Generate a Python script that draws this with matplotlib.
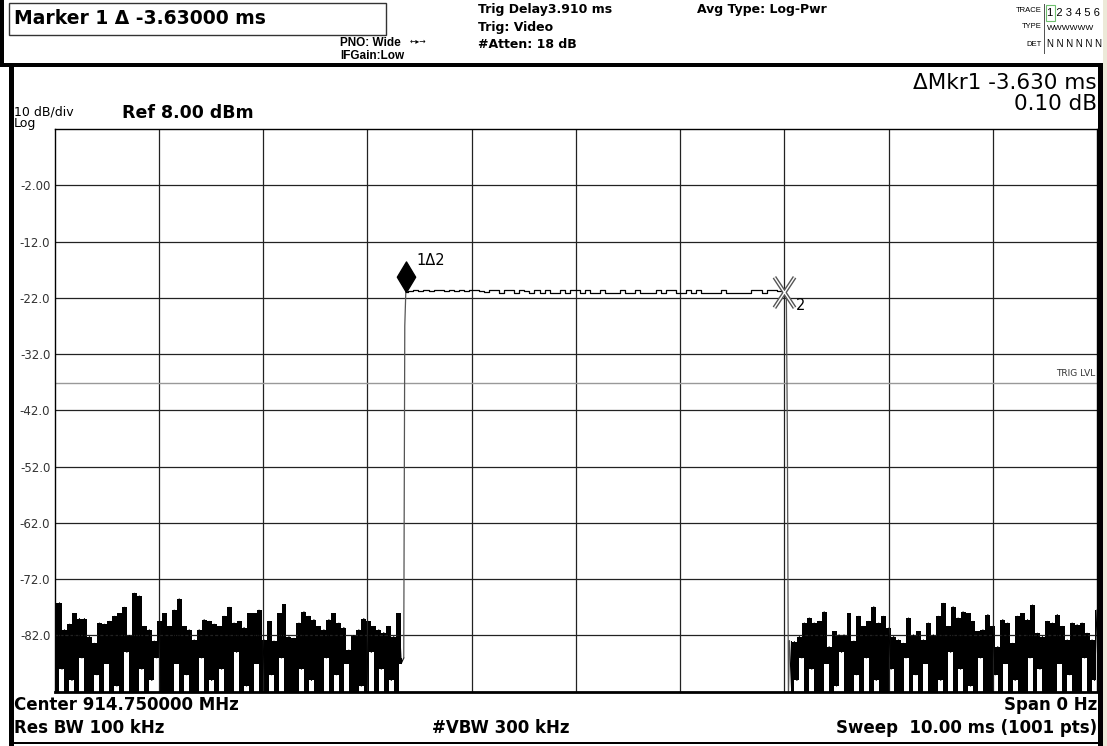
import numpy as np
import matplotlib
matplotlib.use("Agg")
import matplotlib.pyplot as plt
from matplotlib.patches import Rectangle
from matplotlib.path import Path

plt.rcParams['font.family'] = ['DejaVu Sans']
plt.rcParams['path.simplify'] = False

W, H = 1107, 746

# ---- trace data (dBm), zero span, 10 ms sweep ----
left_peaks = [-76.3, -76.2, -81.0, -80.0, -78.1, -79.0, -79.0, -82.2, -83.4, -79.8,
              -80.0, -79.5, -78.6, -78.1, -77.0, -82.0, -74.5, -75.0, -80.4, -81.0,
              -83.0, -79.5, -78.1, -80.4, -77.5, -75.5, -80.4, -81.0, -82.8, -81.0,
              -79.2, -79.5, -80.0, -80.4, -78.6, -77.0, -79.8, -79.5, -80.6, -78.1,
              -78.1, -77.5, -82.8, -79.5, -83.0, -78.1, -76.5, -82.2, -82.5, -79.8,
              -77.8, -78.6, -79.2, -80.4, -81.0, -79.2, -78.1, -79.8, -80.6, -84.6,
              -82.0, -81.0, -79.0, -79.5, -80.4, -81.0, -81.5, -80.4, -82.2, -78.1, -86.0]
left_troughs = [-93, -88, -93, -90, -93, -86, -93, -93, -89, -93, -87, -93, -91, -93, -85,
                -93, -93, -88, -93, -90, -86, -93, -93, -92, -87, -93, -89, -93, -93, -86,
                -93, -90, -93, -88, -93, -93, -85, -93, -91, -93, -87, -93, -93, -89, -93,
                -86, -93, -92, -93, -88, -93, -90, -93, -93, -86, -93, -89, -93, -87, -93,
                -93, -91, -93, -85, -93, -88, -93, -90, -93, -87]
rise = [-27.0]
plateau = [-20.9, -20.8, -20.7, -20.8, -20.7, -20.8, -20.7, -20.7, -20.8, -20.7,
           -20.8, -20.7, -20.8,
           -20.7, -20.6, -20.8, -21.0, -20.6, -20.7, -21.1, -20.7, -20.7, -21.2,
           -20.6, -20.8, -21.2, -20.7, -21.2, -20.6, -21.2, -21.2,
           -20.6, -21.2, -20.7, -20.6, -21.2, -20.6, -21.2, -21.2, -20.7, -21.2,
           -21.2, -21.2, -20.6, -21.2, -21.2, -20.6, -21.2, -21.2, -21.2, -20.6,
           -21.2, -20.6, -20.7, -21.2, -21.2, -20.6, -21.2, -20.7, -21.2, -21.2,
           -21.2, -21.2, -20.6, -21.2, -21.2, -21.2, -21.2, -21.2, -20.7, -20.6,
           -21.2, -20.6, -20.7, -20.8, -21.0]
fall = [-21.2, -47.0, -93.0]
right_peaks = [-83.0, -83.1, -82.2, -79.8, -78.9, -79.8, -79.5, -77.8, -84.0, -81.3,
               -81.9, -81.9, -78.1, -83.0, -78.6, -80.4, -79.5, -76.9, -79.8, -78.6,
               -80.7, -82.2, -82.8, -83.4, -78.9, -81.9, -81.3, -82.8, -79.8, -81.9,
               -78.6, -76.3, -80.4, -76.9, -78.9, -77.8, -78.1, -79.5, -81.3, -81.0,
               -78.3, -80.4, -84.0, -79.2, -79.8, -83.4, -78.6, -78.1, -79.2, -76.6,
               -81.6, -82.2, -79.5, -79.8, -78.3, -80.4, -82.8, -79.8, -80.1, -79.8,
               -81.6, -82.8, -77.5]
right_troughs = [-93, -90, -86, -93, -88, -93, -93, -87, -93, -91, -85, -93, -93, -89, -93,
                 -86, -93, -90, -93, -93, -88, -92, -93, -86, -93, -89, -93, -87, -93, -93,
                 -90, -93, -85, -93, -88, -93, -91, -93, -86, -93, -93, -89, -93, -87, -93,
                 -90, -93, -93, -86, -93, -88, -93, -92, -93, -87, -93, -89, -93, -93, -86,
                 -93, -90]

yticks = [-2, -12, -22, -32, -42, -52, -62, -72, -82]
ytick_labels = ["-2.00", "-12.0", "-22.0", "-32.0", "-42.0", "-52.0", "-62.0", "-72.0", "-82.0"]
trig_level = -37.1
mkr1_t, mkr2_t = 3.37, 7.00


def interleave(peaks, troughs):
    out = []
    for i, p in enumerate(peaks):
        out.append(p)
        if i < len(troughs):
            out.append(troughs[i])
    return out


seg_l = np.array(interleave(left_peaks, left_troughs))
seg_r = np.array(interleave(right_peaks, right_troughs))
t_l = np.linspace(0, 3.35, len(seg_l))
t_p = np.linspace(mkr1_t, mkr2_t, len(plateau))
t_r = np.linspace(7.05, 10.0, len(seg_r))

fig = plt.figure(figsize=(W / 100, H / 100), dpi=100)
fig.patch.set_facecolor('white')


def box(x0, y0, x1, y1, **kw):
    fig.add_artist(Rectangle((x0 / W, 1 - y1 / H), (x1 - x0) / W, (y1 - y0) / H,
                             transform=fig.transFigure, **kw))


def txt(x, y, s, **kw):
    fig.text(x / W, 1 - y / H, s, va='center', **kw)


# frame pieces
box(1103, 0, 1107, 746, color='#ece9d8', lw=0)
box(0, 0, 4, 67, color='black', lw=0)
box(0, 63, 1103, 67, color='black', lw=0)
box(9, 63, 14, 746, color='black', lw=0)
box(1098, 63, 1103, 746, color='black', lw=0)
box(14, 742, 1098, 744, color='black', lw=0)
box(9, 3, 386, 35, facecolor='white', edgecolor='#333333', lw=1)

ax = fig.add_axes([54.5 / W, 1 - 691.7 / H, (1097 - 54.5) / W, (691.7 - 129) / H])
ax.set_xlim(0, 10)
ax.set_ylim(-92, 8)
ax.set_xticks(np.arange(1, 10))
ax.set_xticklabels([])
ax.set_yticks(yticks)
ax.set_yticklabels(ytick_labels, fontsize=8.5, color='#333333')
ax.tick_params(length=0, pad=3)
ax.grid(True, color='#222222', lw=0.9)
for s in ax.spines.values():
    s.set_color('black')
    s.set_linewidth(1)
ax.spines['bottom'].set_linewidth(2)

ax.axhline(trig_level, color='#999999', lw=1)
ax.text(9.98, trig_level + 0.9, "TRIG LVL", fontsize=6.5, ha='right', va='bottom', color='#333333')

# noise floor before and after the burst: the dense trace covers, in every
# column, the span between neighbouring samples
for tt, seg in ((t_l, seg_l), (t_r, seg_r)):
    tm = (tt[:-1] + tt[1:]) / 2
    ax.fill_between(tm, np.minimum(seg[:-1], seg[1:]), np.maximum(seg[:-1], seg[1:]),
                    step='mid', color='black', lw=0)
    ax.plot(tt, seg, color='black', lw=0.8)
# rising edge, burst and falling edge
ax.plot([t_l[-1], 3.36, mkr1_t], [seg_l[-1], rise[0], plateau[0]], color='#555555', lw=0.9)
ax.plot(t_p, plateau, color='black', lw=0.9, drawstyle='steps-mid')
ax.plot(np.concatenate([[mkr2_t], [7.02, 7.03, 7.04], [t_r[0]]]),
        np.concatenate([[plateau[-1]], fall, [seg_r[0]]]), color='#555555', lw=0.9)

# marker 1: diamond sitting on the trace
diamond = Path([(0, 0), (0.3, 0.5), (0, 1), (-0.3, 0.5), (0, 0)])
ax.plot([mkr1_t], [plateau[0]], marker=diamond, markersize=44, color='black', clip_on=False)
ax.annotate("1\u03942", (mkr1_t, plateau[0]), xytext=(11, 31), textcoords='offset pixels',
            fontsize=10.5, va='center')
# marker 2: hollow X
xmark = Path([(-0.33, -0.5), (0.33, 0.5), (-0.33, 0.5), (0.33, -0.5)],
             [Path.MOVETO, Path.LINETO, Path.MOVETO, Path.LINETO])
ax.plot([mkr2_t], [plateau[-1]], marker=xmark, markersize=22, mew=3, color='#555555', clip_on=False)
ax.plot([mkr2_t], [plateau[-1]], marker=xmark, markersize=22, mew=1, color='white', clip_on=False)
ax.annotate("2", (mkr2_t, plateau[-1]), xytext=(12, -13), textcoords='offset pixels',
            fontsize=10.5, va='center')

# header texts
txt(14, 18, "Marker 1 \u0394 -3.63000 ms", fontsize=13.5, fontweight='bold')
txt(340, 43, "PNO: Wide", fontsize=8.5, fontweight='bold', family=['Liberation Sans'])
txt(410, 42, "\u2190\u25b8\u2192", fontsize=5.5)
txt(340, 56, "IFGain:Low", fontsize=8.5, fontweight='bold', family=['Liberation Sans'])
txt(478, 10, "Trig Delay3.910 ms", fontsize=9, fontweight='bold')
txt(478, 27, "Trig: Video", fontsize=9, fontweight='bold')
txt(478, 45, "#Atten: 18 dB", fontsize=9, fontweight='bold')
txt(697, 10, "Avg Type: Log-Pwr", fontsize=9, fontweight='bold')
txt(1042, 10, "TRACE", fontsize=5.5, ha='right', family=['Liberation Sans'])
txt(1042, 27, "TYPE", fontsize=5.5, ha='right', family=['Liberation Sans'])
txt(1042, 44, "DET", fontsize=5.5, ha='right', family=['Liberation Sans'])
txt(1047, 13, "1 2 3 4 5 6", fontsize=8, family=['Liberation Sans'])
txt(1047, 28, "WWWWWW", fontsize=6, family=['Liberation Sans'])
txt(1047, 44, "N N N N N N", fontsize=7, family=['Liberation Sans'])
box(1044, 4, 1045, 54, color='#555555', lw=0)
box(1045.5, 5, 1055, 21, facecolor='none', edgecolor='#6fbf6f', lw=0.8)

# display texts
txt(14, 112, "10 dB/div", fontsize=9)
txt(14, 124, "Log", fontsize=9)
txt(122, 113, "Ref 8.00 dBm", fontsize=12.5, fontweight='bold')
txt(1097, 83, "\u0394Mkr1 -3.630 ms", fontsize=15.5, ha='right')
txt(1097, 104, "0.10 dB", fontsize=15.5, ha='right')

txt(14, 705, "Center 914.750000 MHz", fontsize=12, fontweight='bold')
txt(14, 728, "Res BW 100 kHz", fontsize=12, fontweight='bold')
txt(432, 728, "#VBW 300 kHz", fontsize=12, fontweight='bold')
txt(1097, 705, "Span 0 Hz", fontsize=12, fontweight='bold', ha='right')
txt(1097, 728, "Sweep  10.00 ms (1001 pts)", fontsize=12, fontweight='bold', ha='right')

fig.savefig("out.png", dpi=100)
